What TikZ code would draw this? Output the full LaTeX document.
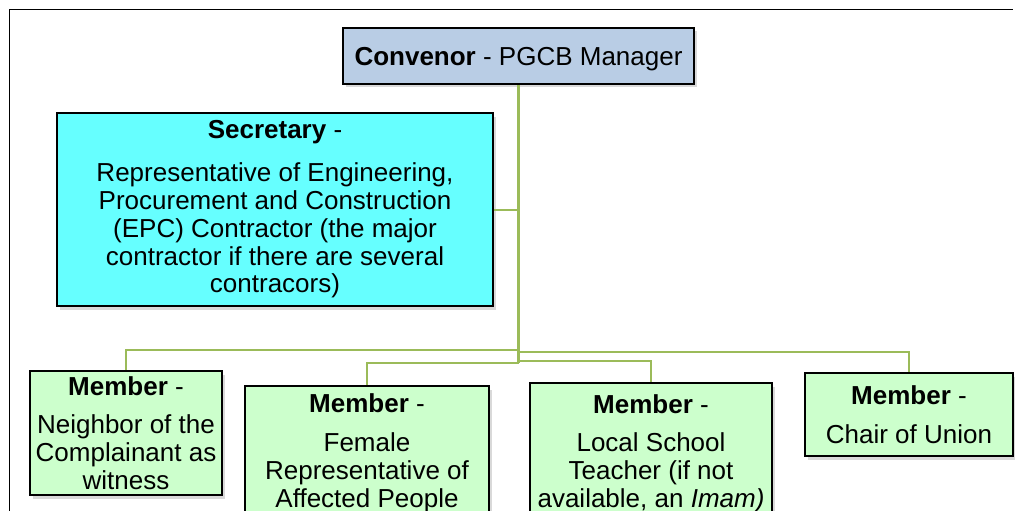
\documentclass[tikz,border=0pt]{standalone}
\usepackage{fontspec}
\setmainfont{Liberation Sans}
\usetikzlibrary{shadows}
\definecolor{convfill}{HTML}{B9CDE5}
\definecolor{secfill}{HTML}{66FFFF}
\definecolor{memfill}{HTML}{CCFFCC}
\definecolor{linkgreen}{HTML}{9BBB59}
\newcommand\topgap{\rule{0pt}{25pt}}
\tikzset{
  orgbox/.style={draw=black, line width=1.8pt, inner sep=0pt, align=center,
    font=\fontsize{26}{27.8}\selectfont,
    drop shadow={opacity=0.3, shadow xshift=3pt, shadow yshift=-3.5pt}},
  trunk/.style={draw=linkgreen, line width=2.6pt},
  link/.style={draw=linkgreen, line width=2pt},
  frameline/.style={draw=black, line width=1pt}
}
\begin{document}
\begin{tikzpicture}[x=1pt,y=-1pt]
\useasboundingbox (0,0) rectangle (1015,511);
% frame
\draw[frameline] (9,511) -- (9,10) -- (1013,10);
% nodes
\node[orgbox, fill=convfill, minimum width=351pt, minimum height=56pt] (conv) at (518.5,56)
  {\topgap\textbf{Convenor} - PGCB Manager};
\node[orgbox, fill=secfill, minimum width=436pt, minimum height=193pt] (sec) at (275,209.5)
  {\textbf{Secretary} -\\[15pt]Representative of Engineering,\\Procurement and Construction\\(EPC) Contractor (the major\\contractor if there are several\\contracors)};
\node[orgbox, fill=memfill, minimum width=192pt, minimum height=124pt] (m1) at (126,433)
  {\textbf{Member} -\\[11pt]Neighbor of the\\Complainant as\\witness};
\node[orgbox, fill=memfill, minimum width=244pt, minimum height=128pt] (m2) at (367,450)
  {\topgap\textbf{Member} -\\[11pt]Female\\Representative of\\Affected People};
\node[orgbox, fill=memfill, minimum width=242pt, minimum height=135pt] (m3) at (651,450.5)
  {\topgap\textbf{Member} -\\[11pt]Local School\\Teacher (if not\\available, an \textit{Imam)}};
\node[orgbox, fill=memfill, minimum width=208pt, minimum height=83pt] (m4) at (909,414.5)
  {\textbf{Member} -\\[11pt]Chair of Union};
% junctions on trunk
\coordinate (j1) at (518.5,350);
\coordinate (j4) at (518.5,352);
\coordinate (j3) at (518.5,361);
\coordinate (j2) at (518.5,363);
% connectors
\draw[trunk] (conv.south) -- (j2);
\draw[link] (sec.east) -- (sec.east -| conv.south);
\draw[link] (j1) -| (m1.north);
\draw[link] (j2) -| (m2.north);
\draw[link] (j3) -| (m3.north);
\draw[link] (j4) -| (m4.north);
\end{tikzpicture}
\end{document}
